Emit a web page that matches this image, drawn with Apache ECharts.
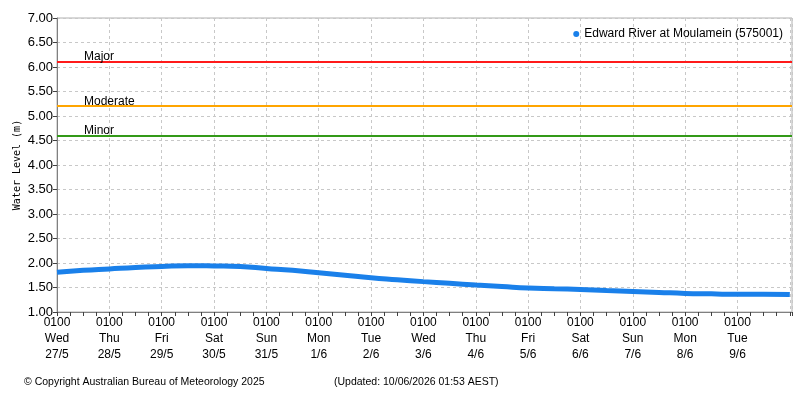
<!DOCTYPE html>
<html>
<head>
<meta charset="utf-8">
<script src="https://cdn.jsdelivr.net/npm/echarts@6/dist/echarts.min.js"></script>
<style>
  html, body { margin: 0; padding: 0; background: #fff; }
  #chart { width: 800px; height: 400px; }
</style>
</head>
<body>
<div id="chart"></div>
<script>
// hours since 0100 Wed 27/5, and the level (m)
const hours = [0, 12, 24, 36, 48, 60, 72, 84, 96, 108, 120, 132, 144, 156, 168,
  180, 192, 204, 216, 228, 240, 252, 264, 276, 288, 300, 312, 324, 336];
const levels = [1.81, 1.85, 1.88, 1.91, 1.93, 1.945, 1.94, 1.93, 1.89, 1.85, 1.80,
  1.75, 1.70, 1.66, 1.62, 1.585, 1.55, 1.52, 1.49, 1.475, 1.46, 1.44, 1.42,
  1.40, 1.38, 1.37, 1.36, 1.36, 1.355];

const tickTimes = ['0100', '0100', '0100', '0100', '0100', '0100', '0100',
  '0100', '0100', '0100', '0100', '0100', '0100', '0100'];
const tickDays = ['Wed', 'Thu', 'Fri', 'Sat', 'Sun', 'Mon', 'Tue',
  'Wed', 'Thu', 'Fri', 'Sat', 'Sun', 'Mon', 'Tue'];
const tickDates = ['27/5', '28/5', '29/5', '30/5', '31/5', '1/6', '2/6',
  '3/6', '4/6', '5/6', '6/6', '7/6', '8/6', '9/6'];

const thresholdNames = ['Major', 'Moderate', 'Minor'];
const thresholdLevels = [6.10, 5.20, 4.60];
const thresholdColors = ['#ff1a1a', '#ffa500', '#339918'];

const seriesName = 'Edward River at Moulamein (575001)';
const FONT = 'Liberation Sans';

const chart = echarts.init(document.getElementById('chart'));

const option = {
  animation: false,
  backgroundColor: '#fff',
  textStyle: { fontFamily: FONT },
  title: [
    {
      text: '© Copyright Australian Bureau of Meteorology 2025',
      left: 19, top: 372,
      textStyle: { fontSize: 10.5, fontWeight: 'normal', color: '#000', fontFamily: FONT }
    },
    {
      text: '(Updated: 10/06/2026 01:53 AEST)',
      left: 329, top: 372,
      textStyle: { fontSize: 10.5, fontWeight: 'normal', color: '#000', fontFamily: FONT }
    }
  ],
  legend: {
    right: 12, top: 23,
    icon: 'circle',
    itemWidth: 6, itemHeight: 6, itemGap: 6,
    textStyle: { fontSize: 12, color: '#000', fontFamily: FONT },
    data: [seriesName]
  },
  grid: {
    left: 57, right: 8, top: 18, bottom: 88,
    show: true, borderColor: '#b0b0b0', borderWidth: 1
  },
  xAxis: {
    type: 'value',
    min: 0, max: 337, interval: 24,
    axisLine: { show: true, onZero: false, lineStyle: { color: '#808080' } },
    axisTick: { show: true, length: 4, lineStyle: { color: '#404040' } },
    minorTick: { show: true, splitNumber: 4, length: 4, lineStyle: { color: '#404040' } },
    splitLine: { show: true, lineStyle: { color: '#c8c8c8', type: [3, 3] } },
    axisLabel: {
      color: '#000', fontSize: 12, lineHeight: 16, margin: 3,
      showMaxLabel: false,
      formatter: (v) => {
        const i = Math.round(v / 24);
        if (i >= tickDays.length) return '';
        return tickTimes[i] + '\n' + tickDays[i] + '\n' + tickDates[i];
      }
    }
  },
  yAxis: {
    type: 'value',
    min: 1, max: 7, interval: 0.5,
    name: 'Water Level (m)',
    nameLocation: 'middle',
    nameGap: 35,
    nameMoveOverlap: false,
    nameTextStyle: { fontFamily: 'DejaVu Sans Mono', fontSize: 10, color: '#000' },
    axisLine: { show: true, lineStyle: { color: '#808080' } },
    axisTick: { show: true, length: 4, lineStyle: { color: '#404040' } },
    splitLine: { show: true, lineStyle: { color: '#c8c8c8', type: [3, 3] } },
    axisLabel: {
      color: '#000', fontSize: 13, margin: 4,
      formatter: (v) => v.toFixed(2)
    }
  },
  series: [
    {
      name: seriesName,
      type: 'line',
      smooth: true,
      showSymbol: false,
      symbol: 'circle',
      itemStyle: { color: '#1a80ea' },
      lineStyle: { color: '#1a80ea', width: 5 },
      data: hours.map((h, i) => [h, levels[i]]),
      markLine: {
        silent: true,
        symbol: 'none',
        data: thresholdLevels.map((lv, i) => ({
          yAxis: lv,
          lineStyle: { color: thresholdColors[i], width: 2, type: 'solid' },
          label: {
            show: true,
            position: 'insideStartTop',
            formatter: thresholdNames[i],
            color: '#000', fontSize: 12, fontFamily: FONT,
            distance: [27, -1]
          }
        }))
      }
    }
  ]
};

chart.setOption(option);
</script>
</body>
</html>
